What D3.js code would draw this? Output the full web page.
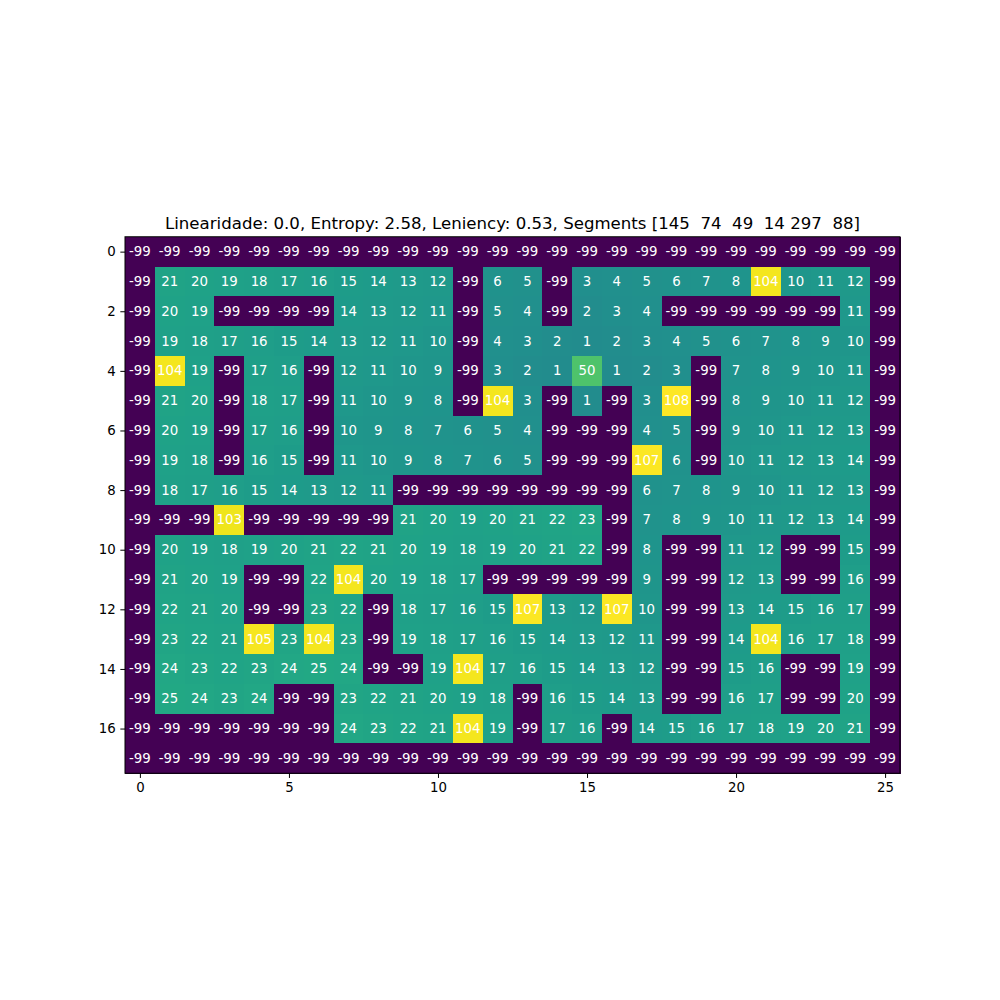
<!DOCTYPE html>
<html><head><meta charset="utf-8">
<script src="https://cdn.jsdelivr.net/npm/d3@7"></script>
<style>body{margin:0;background:#fff}svg text{font-family:"DejaVu Sans",sans-serif}</style>
</head><body>
<svg id="c" width="1000" height="1000"></svg>
<script>
const title = "Linearidade: 0.0, Entropy: 2.58, Leniency: 0.53, Segments [145  74  49  14 297  88]";
const xTicks = [0,5,10,15,20,25];
const yTicks = [0,2,4,6,8,10,12,14,16];
const row0  = [-99,-99,-99,-99,-99,-99,-99,-99,-99,-99,-99,-99,-99,-99,-99,-99,-99,-99,-99,-99,-99,-99,-99,-99,-99,-99];
const row1  = [-99,21,20,19,18,17,16,15,14,13,12,-99,6,5,-99,3,4,5,6,7,8,104,10,11,12,-99];
const row2  = [-99,20,19,-99,-99,-99,-99,14,13,12,11,-99,5,4,-99,2,3,4,-99,-99,-99,-99,-99,-99,11,-99];
const row3  = [-99,19,18,17,16,15,14,13,12,11,10,-99,4,3,2,1,2,3,4,5,6,7,8,9,10,-99];
const row4  = [-99,104,19,-99,17,16,-99,12,11,10,9,-99,3,2,1,50,1,2,3,-99,7,8,9,10,11,-99];
const row5  = [-99,21,20,-99,18,17,-99,11,10,9,8,-99,104,3,-99,1,-99,3,108,-99,8,9,10,11,12,-99];
const row6  = [-99,20,19,-99,17,16,-99,10,9,8,7,6,5,4,-99,-99,-99,4,5,-99,9,10,11,12,13,-99];
const row7  = [-99,19,18,-99,16,15,-99,11,10,9,8,7,6,5,-99,-99,-99,107,6,-99,10,11,12,13,14,-99];
const row8  = [-99,18,17,16,15,14,13,12,11,-99,-99,-99,-99,-99,-99,-99,-99,6,7,8,9,10,11,12,13,-99];
const row9  = [-99,-99,-99,103,-99,-99,-99,-99,-99,21,20,19,20,21,22,23,-99,7,8,9,10,11,12,13,14,-99];
const row10 = [-99,20,19,18,19,20,21,22,21,20,19,18,19,20,21,22,-99,8,-99,-99,11,12,-99,-99,15,-99];
const row11 = [-99,21,20,19,-99,-99,22,104,20,19,18,17,-99,-99,-99,-99,-99,9,-99,-99,12,13,-99,-99,16,-99];
const row12 = [-99,22,21,20,-99,-99,23,22,-99,18,17,16,15,107,13,12,107,10,-99,-99,13,14,15,16,17,-99];
const row13 = [-99,23,22,21,105,23,104,23,-99,19,18,17,16,15,14,13,12,11,-99,-99,14,104,16,17,18,-99];
const row14 = [-99,24,23,22,23,24,25,24,-99,-99,19,104,17,16,15,14,13,12,-99,-99,15,16,-99,-99,19,-99];
const row15 = [-99,25,24,23,24,-99,-99,23,22,21,20,19,18,-99,16,15,14,13,-99,-99,16,17,-99,-99,20,-99];
const row16 = [-99,-99,-99,-99,-99,-99,-99,24,23,22,21,104,19,-99,17,16,-99,14,15,16,17,18,19,20,21,-99];
const row17 = [-99,-99,-99,-99,-99,-99,-99,-99,-99,-99,-99,-99,-99,-99,-99,-99,-99,-99,-99,-99,-99,-99,-99,-99,-99,-99];
const grid = [row0,row1,row2,row3,row4,row5,row6,row7,row8,row9,row10,row11,row12,row13,row14,row15,row16,row17];

const nR = grid.length, nC = grid[0].length;
const leftX = 125, rightX = 900;
const W = rightX - leftX;
const cell = W / nC;
const H = cell * nR;
const cy = 505;
const topY = cy - H/2;

const svg = d3.select("#c");
const x = d3.scaleLinear().domain([-0.5, nC-0.5]).range([leftX, rightX]);
const y = d3.scaleLinear().domain([-0.5, nR-0.5]).range([topY, topY+H]);
const all = grid.flat();
const color = d3.scaleSequential(d3.interpolateViridis).domain([d3.min(all), d3.max(all)]);

const cells = [];
grid.forEach((r,i)=>r.forEach((v,j)=>cells.push({i,j,v})));

svg.append("g").attr("shape-rendering","crispEdges").selectAll("rect").data(cells).join("rect")
  .attr("x", d=>x(d.j-0.5)).attr("y", d=>y(d.i-0.5))
  .attr("width", cell+0.6).attr("height", cell+0.6)
  .attr("fill", d=>color(d.v));

svg.append("g").selectAll("text").data(cells).join("text")
  .attr("x", d=>x(d.j)).attr("y", d=>y(d.i))
  .attr("text-anchor","middle").attr("dominant-baseline","central")
  .attr("font-size","13.33px").attr("fill","#fff")
  .text(d=>d.v);

svg.append("rect").attr("x",leftX).attr("y",topY).attr("width",W).attr("height",H)
  .attr("fill","none").attr("stroke","#000").attr("stroke-width",1);

const xa = svg.append("g").attr("transform",`translate(0,${topY+H})`)
  .call(d3.axisBottom(x).tickValues(xTicks).tickSize(4.67).tickPadding(4.67).tickFormat(d3.format("d")));
const ya = svg.append("g").attr("transform",`translate(${leftX},0)`)
  .call(d3.axisLeft(y).tickValues(yTicks).tickSize(4.67).tickPadding(4.67).tickFormat(d3.format("d")));
[xa,ya].forEach(a=>{
  a.select(".domain").remove();
  a.selectAll("text").attr("font-size","13.33px").attr("font-family","DejaVu Sans").attr("fill","#000");
  a.selectAll("line").attr("stroke","#000");
});

svg.append("text").attr("x",(leftX+rightX)/2).attr("y",topY-8)
  .attr("text-anchor","middle").attr("font-size","16.6px").attr("fill","#000")
  .style("white-space","pre").attr("xml:space","preserve")
  .text(title);
</script>
</body></html>
